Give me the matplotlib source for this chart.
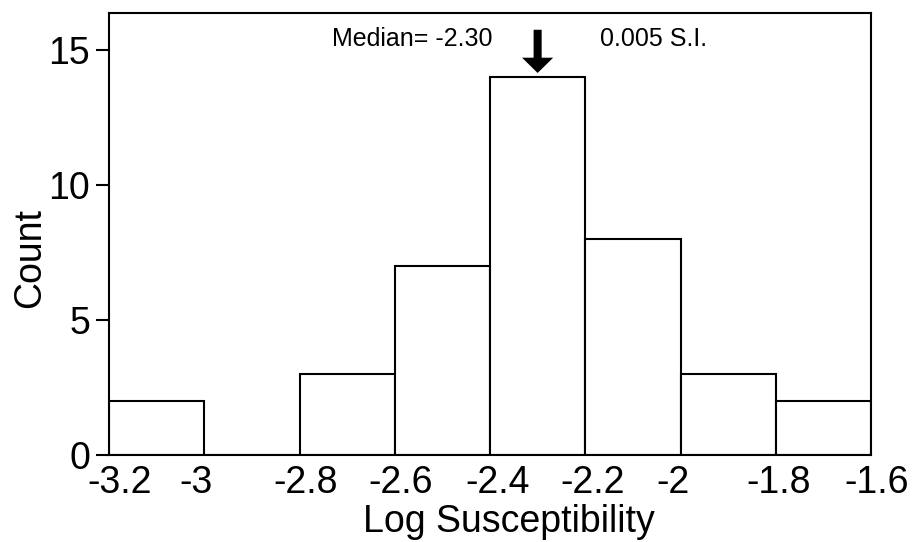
import matplotlib
matplotlib.use("Agg")
import matplotlib.pyplot as plt
import matplotlib.transforms as mtransforms
import numpy as np

plt.rcParams['font.family'] = ['Liberation Sans', 'DejaVu Sans']

bin_edges = [-3.2, -3.0, -2.8, -2.6, -2.4, -2.2, -2.0, -1.8, -1.6]
counts = [2, 0, 3, 7, 14, 8, 3, 2]
xtick_labels = ['-3.2', '-3', '-2.8', '-2.6', '-2.4', '-2.2', '-2', '-1.8', '-1.6']
yticks = [0, 5, 10, 15]
median = -2.30

fig = plt.figure(figsize=(9.17, 5.42), dpi=100)
ax = fig.add_axes([109/917, 1-455/542, 762/917, 442.5/542])

edges = np.array(bin_edges)
ax.bar(edges[:-1], counts, width=np.diff(edges), align='edge',
       facecolor='white', edgecolor='black', linewidth=1.5)

ax.set_xlim(bin_edges[0], bin_edges[-1])
ax.set_ylim(0, 16.39)
ax.set_xticks(bin_edges)
ax.set_xticklabels(xtick_labels)
ax.set_yticks(yticks)
ax.tick_params(axis='x', length=0, pad=7.0, labelsize=27)
ax.tick_params(axis='y', length=9.4, width=1.5, pad=4.3, labelsize=27, direction='out')
for s in ax.spines.values():
    s.set_linewidth(1.5)

# small horizontal label shifts (pixels) as in the reference layout
shifts_px = [11, -8, 6, 6, 8, 7, -7, 3, 6]
for lab, dx in zip(ax.get_xticklabels(), shifts_px):
    lab.set_transform(lab.get_transform() +
                      mtransforms.ScaledTranslation(dx / 100, 0, fig.dpi_scale_trans))

ax.set_xlabel('Log Susceptibility', fontsize=27, va='baseline')
ax.xaxis.set_label_coords(0.525, -0.174)
ax.set_ylabel('Count', fontsize=27, va='center')
ax.yaxis.set_label_coords(-0.103, 0.445)

ax.text(-2.394, 15.4, 'Median= -2.30', fontsize=18, ha='right', va='center')
ax.text(-2.169, 15.4, '0.005 S.I.', fontsize=18, ha='left', va='center')
ax.annotate('', xy=(median, 14.15), xytext=(median, 15.75),
            arrowprops=dict(arrowstyle='simple,head_length=0.55,head_width=1.12,tail_width=0.29',
                            mutation_scale=20, color='black', lw=0,
                            shrinkA=0, shrinkB=0))

fig.savefig('out.png', dpi=100)
